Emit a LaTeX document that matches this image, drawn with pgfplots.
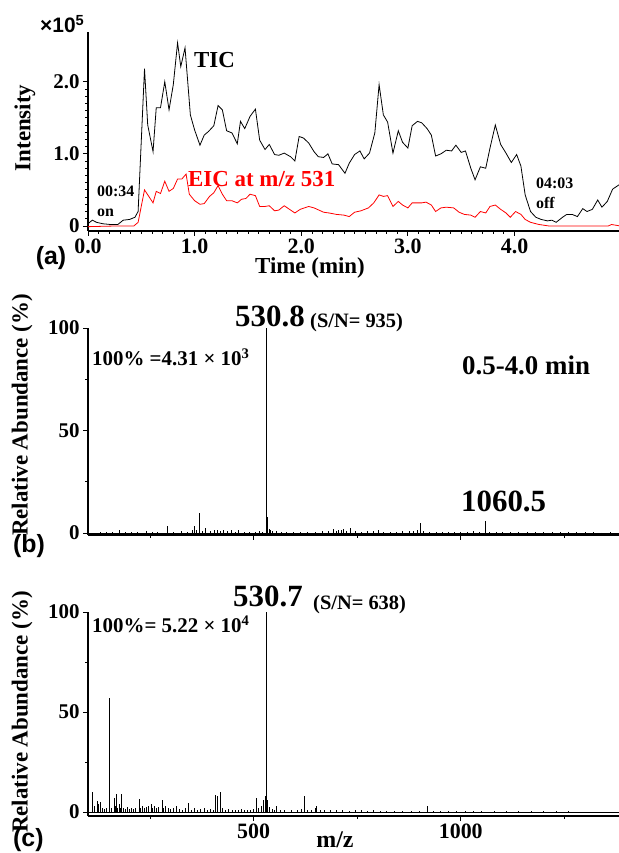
\documentclass[border=0pt]{standalone}
\usepackage{fontspec}
\setmainfont{Liberation Serif}
\setsansfont{Liberation Sans}
\usepackage{pgfplots}
\pgfplotsset{compat=1.18}

\newcommand{\fs}[1]{\fontsize{#1}{#1}\selectfont}

\pgfplotsset{
  panel/.style={
    scale only axis,
    width=531bp,
    anchor=south west,
    axis x line=bottom,
    axis y line=left,
    axis line style={-, line width=1.3pt},
    tick align=outside,
    major tick length=5bp,
    minor tick length=3bp,
    every tick/.style={black, line width=0.8pt},
    yticklabel style={font=\bfseries\fs{21}},
    xticklabel style={font=\bfseries\fs{22}, yshift=1bp},
    /pgf/number format/assume math mode=true,
  },
}

\begin{document}
\begin{tikzpicture}[x=1bp, y=1bp]
\useasboundingbox (0,0) rectangle (619,853);

% (a) chromatogram
\begin{axis}[panel,
    at={(88bp,622bp)}, height=199bp,
    xmin=0, xmax=4.98, ymin=-0.07, ymax=2.69,
    xtick={0,1,2,3,4}, xticklabels={0.0,1.0,2.0,3.0,4.0},
    minor x tick num=9,
    ytick={0,1,2}, yticklabels={0,1.0,2.0},
    minor y tick num=9,
]
% TIC
\addplot[black, line width=0.8pt] coordinates {
(0,0.03) (0.04,0.08) (0.08,0.05) (0.14,0.03) (0.21,0.02) (0.28,0.02) (0.33,0.08) (0.39,0.09) (0.44,0.12) (0.47,0.20)
(0.53,2.18) (0.56,1.40) (0.61,1.03) (0.64,1.64) (0.68,1.64) (0.72,2.00) (0.76,1.61) (0.80,1.96) (0.84,2.54) (0.87,2.21)
(0.91,2.47) (0.96,1.54) (1.00,1.33) (1.05,1.12) (1.09,1.26) (1.13,1.31) (1.18,1.39) (1.22,1.67) (1.26,1.61) (1.30,1.32)
(1.35,1.29) (1.40,1.14) (1.43,1.45) (1.47,1.35) (1.52,1.52) (1.57,1.62) (1.61,1.19) (1.66,1.06) (1.70,1.13) (1.75,0.99)
(1.79,0.98) (1.84,1.01) (1.90,0.96) (1.94,0.90) (1.98,1.24) (2.02,1.22) (2.07,1.15) (2.12,1.03) (2.16,0.96) (2.21,0.95)
(2.25,1.00) (2.29,0.86) (2.35,0.85) (2.41,0.73) (2.45,0.87) (2.50,0.99) (2.55,1.04) (2.59,0.93) (2.64,1.01) (2.69,1.29)
(2.73,1.96) (2.77,1.54) (2.81,1.44) (2.86,1.01) (2.91,1.32) (2.95,1.16) (3.00,1.08) (3.04,1.39) (3.09,1.45) (3.13,1.43)
(3.18,1.35) (3.22,1.26) (3.26,0.97) (3.31,1.00) (3.36,1.05) (3.41,1.04) (3.45,1.12) (3.50,1.02) (3.54,1.04) (3.59,0.80)
(3.63,0.64) (3.68,0.82) (3.73,0.80) (3.77,1.08) (3.82,1.40) (3.87,1.13) (3.92,1.01) (3.97,0.88) (4.02,0.99) (4.06,0.83)
(4.10,0.43) (4.15,0.20) (4.20,0.12) (4.25,0.09) (4.31,0.07) (4.35,0.08) (4.39,0.05) (4.45,0.12) (4.49,0.16) (4.54,0.16)
(4.59,0.13) (4.64,0.24) (4.68,0.20) (4.73,0.23) (4.78,0.36) (4.82,0.26) (4.87,0.34) (4.92,0.51) (4.97,0.56) (4.99,0.58)
};
% EIC at m/z 531
\addplot[red, line width=0.8pt] coordinates {
(0,-0.01) (0.28,0.00) (0.43,0.00) (0.47,0.05) (0.53,0.50) (0.57,0.41) (0.61,0.32) (0.64,0.48) (0.68,0.45) (0.72,0.62)
(0.76,0.48) (0.80,0.52) (0.84,0.65) (0.88,0.65) (0.92,0.72) (0.95,0.44) (1.00,0.35) (1.05,0.30) (1.09,0.31) (1.14,0.41)
(1.18,0.46) (1.22,0.56) (1.26,0.44) (1.30,0.35) (1.35,0.35) (1.40,0.32) (1.44,0.37) (1.48,0.38) (1.52,0.44) (1.57,0.42)
(1.61,0.27) (1.66,0.27) (1.70,0.28) (1.75,0.21) (1.79,0.22) (1.84,0.28) (1.90,0.22) (1.94,0.18) (1.99,0.23) (2.07,0.27)
(2.12,0.25) (2.21,0.19) (2.26,0.18) (2.33,0.16) (2.40,0.15) (2.45,0.13) (2.50,0.19) (2.56,0.21) (2.63,0.25) (2.68,0.32)
(2.73,0.43) (2.77,0.41) (2.81,0.42) (2.86,0.27) (2.91,0.34) (2.95,0.29) (3.00,0.25) (3.04,0.32) (3.09,0.32) (3.13,0.32)
(3.17,0.33) (3.22,0.29) (3.26,0.20) (3.31,0.25) (3.36,0.26) (3.43,0.25) (3.48,0.19) (3.53,0.16) (3.59,0.15) (3.63,0.12)
(3.68,0.20) (3.73,0.18) (3.77,0.27) (3.82,0.29) (3.87,0.23) (3.92,0.18) (3.96,0.12) (4.01,0.20) (4.06,0.16) (4.10,0.09)
(4.15,0.05) (4.23,0.02) (4.32,0.00) (4.88,0.00) (4.91,0.02) (4.99,0.00)
};
\end{axis}

% (b) spectrum 0.5-4.0 min
\begin{axis}[panel,
    at={(88bp,318bp)}, height=207bp,
    xmin=100, xmax=1382, ymin=-1, ymax=100,
    xtick={500,1000}, xticklabels={}, minor xtick={250,750,1250},
    ytick={0,50,100}, yticklabels={0,50,100}, minor ytick={25,75},
]
\addplot[black, line width=0.8pt] coordinates {(100,0) (1382,0)};
\addplot[ycomb, black, line width=0.8pt, mark=none] coordinates {
(130,0.5) (145,0.4) (160,0.6) (177,1.5) (190,0.5) (205,0.4) (220,0.6) (242,1) (255,0.7) (268,0.5)
(291,3.6) (305,0.6) (325,1) (340,0.5) (352,1.2) (356,3.5) (362,1.5) (369,9.8) (375,1) (383,2.5)
(395,0.8) (405,1.2) (412,1.5) (420,1) (428,1.4) (437,0.8) (445,1.2) (455,0.6) (463,1.5) (478,0.5)
(490,0.7) (505,0.5) (515,0.8) (522,0.6) (530.8,100) (531.4,70) (532.5,8) (534,6.3) (537,2) (540,1.5)
(545,1) (555,0.8) (566,0.6) (580,0.5) (597,0.7) (612,0.5) (630,0.6) (650,0.5) (665,0.8) (680,1)
(692,2) (700,1) (705,1.2) (712,1.5) (717,1.8) (725,1) (734,2.5) (745,0.8) (760,0.7) (775,0.9)
(790,0.8) (800,1.2) (812,0.6) (830,0.7) (845,0.5) (860,0.9) (875,1) (885,1) (895,1.3) (902,5)
(910,0.8) (925,0.6) (940,0.5) (955,0.7) (970,0.6) (985,0.5) (1000,0.4) (1015,0.6) (1030,0.8) (1045,0.5)
(1060.5,5.7) (1070,0.6) (1085,0.4) (1100,0.5) (1120,0.4) (1140,0.3) (1160,0.5) (1180,0.4) (1200,0.3) (1220,0.4)
(1240,0.3) (1260,0.4) (1280,0.3) (1300,0.3) (1320,0.3) (1340,0.2) (1360,0.3)
};
\end{axis}

% (c) spectrum
\begin{axis}[panel,
    at={(88bp,37bp)}, height=204bp,
    xmin=100, xmax=1382, ymin=-2, ymax=100,
    xtick={500,1000}, xticklabels={500,1000}, minor xtick={250,750,1250},
    ytick={0,50,100}, yticklabels={0,50,100}, minor ytick={25,75},
]
\addplot[black, line width=0.8pt] coordinates {(100,0) (1382,0)};
\addplot[ycomb, black, line width=0.8pt, mark=none] coordinates {
(110,10) (115,3) (122,5.5) (126,4) (129,5) (135,2) (140,1.5) (145,2) (151,57) (156,2)
(163,7) (166,3) (169,9) (172,2) (175,4) (178,2) (181,9) (186,2) (190,1.5) (195,2.5)
(200,1.5) (205,2) (210,1.5) (215,2) (223,6.3) (227,2) (232,3) (237,2) (242,2.5) (247,3)
(252,4) (256,2) (260,3) (265,2) (270,2.5) (279,6) (283,2) (288,3) (293,2) (300,1.5)
(307,2) (314,3) (320,1.5) (327,1) (335,2) (342,4.5) (350,1) (357,2) (365,1) (372,1.5)
(380,2) (388,1) (395,1.5) (403,1) (408,8.5) (412,8) (420,10) (425,2) (432,1) (440,1.5)
(448,1) (455,1.2) (462,1) (470,1.5) (478,1) (485,1.2) (492,1) (500,1.5) (507,7) (512,2)
(518,3) (524,6) (527.5,8) (530.7,100) (531.2,63) (534,6) (539,2.5) (545,1.5) (550,1) (556,3)
(565,1) (575,1) (590,0.8) (605,1) (615,1.5) (622,8) (630,1) (640,1) (648,2) (652,3)
(660,1) (670,0.8) (685,1) (700,0.8) (715,1) (730,0.7) (745,1) (760,0.8) (775,0.7) (790,0.8)
(805,0.6) (820,0.7) (840,0.6) (860,0.7) (880,0.5) (900,0.6) (920,3) (935,0.6) (950,0.5) (970,0.6)
(990,0.5) (1010,0.5) (1030,0.4) (1050,0.5) (1080,0.4) (1110,0.4) (1140,0.4) (1170,0.3) (1200,0.4) (1230,0.3)
(1260,0.3)
};
\end{axis}

% texts of (a)
\node[anchor=base west, inner sep=0, font=\sffamily\bfseries\fs{21}] at (40,820) {×10\textsuperscript{5}};
\node[rotate=90, font=\bfseries\fs{23}] at (25,725) {Intensity};
\node[anchor=base west, inner sep=0, font=\bfseries\fs{23}] at (194,785) {TIC};
\node[anchor=base west, inner sep=0, font=\bfseries\fs{23}, text=red] at (188,666) {EIC at m/z 531};
\node[anchor=base west, inner sep=0, font=\bfseries\fs{16}] at (97,656) {00:34};
\node[anchor=base west, inner sep=0, font=\bfseries\fs{16}] at (97,636) {on};
\node[anchor=base west, inner sep=0, font=\bfseries\fs{16}] at (536,664) {04:03};
\node[anchor=base west, inner sep=0, font=\bfseries\fs{16}] at (536,644) {off};
\node[anchor=base, inner sep=0, font=\bfseries\fs{23}] at (310,579) {Time (min)};
\node[anchor=base, inner sep=0, font=\sffamily\bfseries\fs{25}] at (51,588) {(a)};

% texts of (b)
\node[rotate=90, font=\bfseries\fs{23}] at (22,438) {Relative Abundance (\%)};
\node[anchor=base west, inner sep=0, font=\bfseries\fs{31}] at (235,526) {530.8};
\node[anchor=base west, inner sep=0, font=\bfseries\fs{20.5}] at (310,525) {(S/N= 935)};
\node[anchor=base west, inner sep=0, font=\bfseries\fs{21}] at (92,487) {100\% =4.31 × 10\textsuperscript{3}};
\node[anchor=base west, inner sep=0, font=\bfseries\fs{27}] at (462,478) {0.5-4.0 min};
\node[anchor=base west, inner sep=0, font=\bfseries\fs{31}] at (461,341) {1060.5};
\node[anchor=base west, inner sep=0, font=\sffamily\bfseries\fs{25}] at (13,300) {(b)};

% texts of (c)
\node[rotate=90, font=\bfseries\fs{23}] at (22,141) {Relative Abundance (\%)};
\node[anchor=base west, inner sep=0, font=\bfseries\fs{31}] at (233,246) {530.7};
\node[anchor=base west, inner sep=0, font=\bfseries\fs{20.5}] at (313,243) {(S/N= 638)};
\node[anchor=base west, inner sep=0, font=\bfseries\fs{21}] at (92,220) {100\%= 5.22 × 10\textsuperscript{4}};
\node[anchor=base, inner sep=0, font=\bfseries\fs{24}] at (335,5) {m/z};
\node[anchor=base west, inner sep=0, font=\sffamily\bfseries\fs{25}] at (13,6) {(c)};
\end{tikzpicture}
\end{document}
